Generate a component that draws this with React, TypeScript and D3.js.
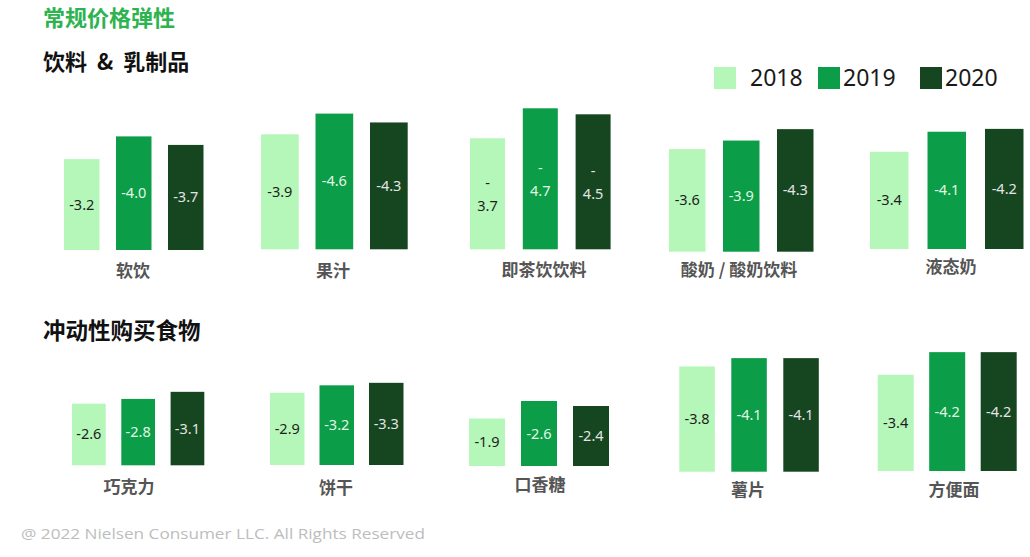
import React, { useEffect, useRef } from "react";
import * as d3 from "d3";

const years = ["2018", "2019", "2020"];
const drinkCats = ["软饮", "果汁", "即茶饮饮料", "酸奶 / 酸奶饮料", "液态奶"];
const drinkVals = [
  [-3.2, -4.0, -3.7],
  [-3.9, -4.6, -4.3],
  [-3.7, -4.7, -4.5],
  [-3.6, -3.9, -4.3],
  [-3.4, -4.1, -4.2],
];
const snackCats = ["巧克力", "饼干", "口香糖", "薯片", "方便面"];
const snackVals = [
  [-2.6, -2.8, -3.1],
  [-2.9, -3.2, -3.3],
  [-1.9, -2.6, -2.4],
  [-3.8, -4.1, -4.1],
  [-3.4, -4.2, -4.2],
];

const colors = ["#b5f7b9", "#0b9d47", "#16461f"];
const textColors = ["#1e1e1e", "#e2f7e4", "#e4e4e4"];

// every small panel was laid out on its own, so each has its own frame
type Frame = { left: number; barW: number; step: number; base: number; k: number; labelX: number; labelY: number; wrap?: boolean };
const drinkFrames: Frame[] = [
  { left: 64, barW: 35.5, step: 52, base: 250, k: 28.4, labelX: 133, labelY: 271 },
  { left: 261, barW: 37.7, step: 54.5, base: 249.3, k: 29.5, labelX: 333, labelY: 271 },
  { left: 470, barW: 35, step: 52.8, base: 249.3, k: 30, labelX: 544, labelY: 270, wrap: true },
  { left: 669, barW: 36.5, step: 54, base: 251.7, k: 28.5, labelX: 739, labelY: 270 },
  { left: 870, barW: 38.5, step: 57.5, base: 249, k: 28.6, labelX: 951, labelY: 267 },
];
const snackFrames: Frame[] = [
  { left: 72, barW: 33.7, step: 49.3, base: 465.3, k: 23.7, labelX: 129, labelY: 487 },
  { left: 270, barW: 34.5, step: 49.5, base: 465, k: 24.9, labelX: 336, labelY: 488 },
  { left: 469, barW: 36, step: 52, base: 466, k: 25, labelX: 540, labelY: 485 },
  { left: 679.3, barW: 35.5, step: 52, base: 471.7, k: 27.7, labelX: 748, labelY: 490 },
  { left: 877.7, barW: 36, step: 51.5, base: 471, k: 28.3, labelX: 954, labelY: 490 },
];

const W = 1030;
const H = 557;
const cjk = "'Noto Sans CJK SC', 'Noto Sans', sans-serif";
const latin = "'Noto Sans', 'Open Sans', sans-serif";

export default function App() {
  const ref = useRef<SVGSVGElement>(null);

  useEffect(() => {
    const svg = d3.select(ref.current);
    svg.selectAll("*").remove();
    svg.append("rect").attr("width", W).attr("height", H).attr("fill", "#fff");

    svg.append("text").attr("x", 43).attr("y", 26).text("常规价格弹性")
      .attr("font-family", cjk).attr("font-weight", 700).attr("font-size", 22).attr("fill", "#2db34f");
    svg.append("text").attr("x", 43).attr("y", 70).text("饮料\u00a0\u00a0&\u00a0\u00a0乳制品")
      .attr("font-family", cjk).attr("font-weight", 700).attr("font-size", 22).attr("fill", "#111");
    svg.append("text").attr("x", 43).attr("y", 339).text("冲动性购买食物")
      .attr("font-family", cjk).attr("font-weight", 700).attr("font-size", 22.5).attr("fill", "#111");

    // legend
    const legendX = [714, 818, 920];
    years.forEach((y, i) => {
      svg.append("rect").attr("x", legendX[i]).attr("y", 67).attr("width", 22).attr("height", 22).attr("fill", colors[i]);
      svg.append("text").attr("x", legendX[i] + (i > 0 ? 25 : 36)).attr("y", 86).text(y)
        .attr("font-family", latin).attr("font-size", 23).attr("fill", "#1a1a1a");
    });

    const drawPanel = (cat: string, vals: number[], f: Frame) => {
      const x = d3.scaleBand<string>().domain(years)
        .range([f.left, f.left + 2 * f.step + f.barW])
        .paddingInner((f.step - f.barW) / f.step).paddingOuter(0);
      const y = d3.scaleLinear().domain([0, 5]).range([f.base, f.base - 5 * f.k]);
      const g = svg.append("g");
      vals.forEach((v, i) => {
        const top = y(Math.abs(v));
        g.append("rect").attr("x", x(years[i])!).attr("y", top)
          .attr("width", x.bandwidth()).attr("height", f.base - top).attr("fill", colors[i]);
        const cx = x(years[i])! + x.bandwidth() / 2;
        const cy = (top + f.base) / 2;
        const t = g.append("text").attr("text-anchor", "middle").attr("font-family", latin)
          .attr("font-size", 14.5).attr("fill", textColors[i]);
        if (f.wrap) {
          t.append("tspan").attr("x", cx).attr("y", cy - 6).text("-");
          t.append("tspan").attr("x", cx).attr("y", cy + 17).text(Math.abs(v).toFixed(1));
        } else {
          t.attr("x", cx).attr("y", cy + 5).text(v.toFixed(1));
        }
      });
      g.append("text").attr("x", f.labelX).attr("y", f.labelY + 6).attr("text-anchor", "middle")
        .attr("font-family", cjk).attr("font-weight", 700).attr("font-size", 17).attr("fill", "#555")
        .text(cat);
    };

    drinkCats.forEach((c, i) => drawPanel(c, drinkVals[i], drinkFrames[i]));
    snackCats.forEach((c, i) => drawPanel(c, snackVals[i], snackFrames[i]));

    svg.append("text").attr("x", 21).attr("y", 539).text("@ 2022 Nielsen Consumer LLC. All Rights Reserved")
      .attr("font-family", "'Open Sans', sans-serif").attr("font-size", 14).attr("fill", "#bdbdbd")
      .attr("textLength", 404).attr("lengthAdjust", "spacingAndGlyphs");
  }, []);

  return (
    <svg ref={ref} width={W} height={H}
      style={{ position: "absolute", left: 0, top: 0, display: "block" }} />
  );
}
